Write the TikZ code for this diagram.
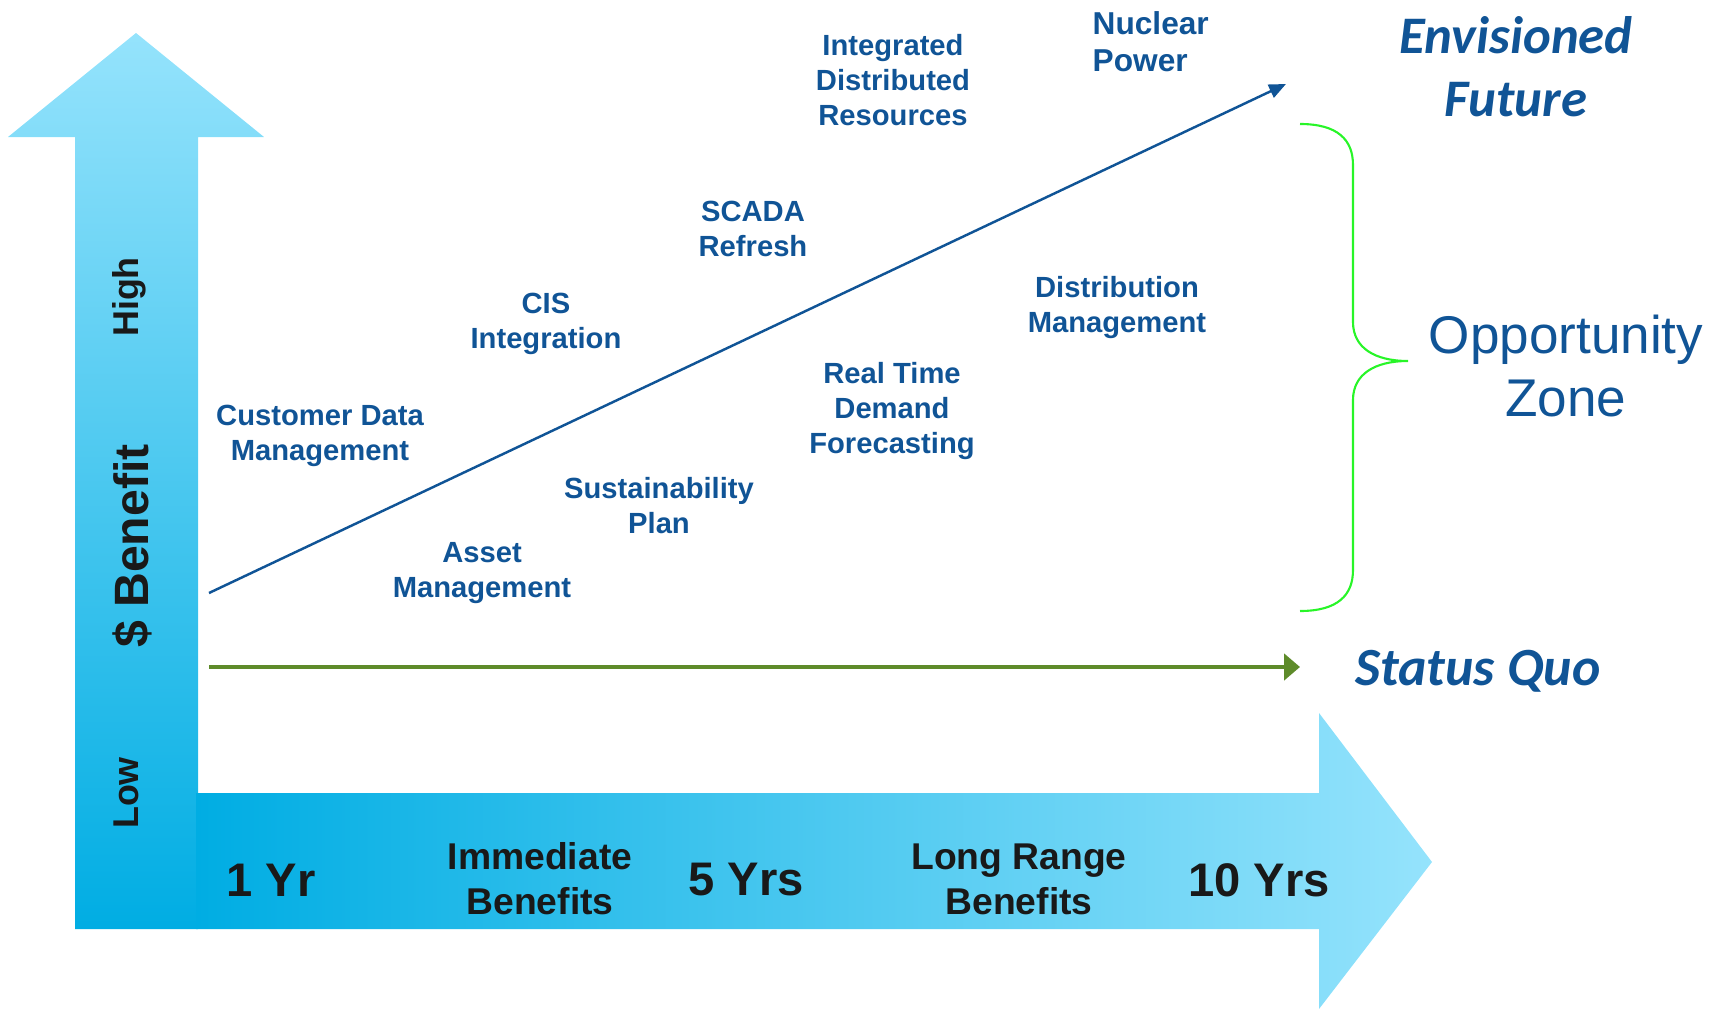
\documentclass[tikz,border=0pt]{standalone}
\usepackage{fontspec}
\setmainfont{Liberation Sans}
\newfontfamily\calibri{Carlito}
\usetikzlibrary{arrows.meta}

\definecolor{bleu}{RGB}{16,84,150}
\definecolor{ciel}{RGB}{149,227,252}
\definecolor{azur}{RGB}{0,173,227}
\definecolor{vertquo}{RGB}{94,139,42}
\definecolor{vif}{RGB}{40,245,40}

\tikzset{
  projet/.style={text=bleu, font=\bfseries\fontsize{8.3}{9.96}\selectfont, align=center, inner sep=0pt},
  annee/.style={text=black!90, font=\bfseries\fontsize{13.4}{16}\selectfont, inner sep=0pt},
  periode/.style={text=black!90, font=\bfseries\fontsize{10.6}{12.8}\selectfont, align=center, inner sep=0pt},
  niveau/.style={text=black!90, font=\bfseries\fontsize{10.2}{12}\selectfont, rotate=90, inner sep=0pt},
  titre/.style={text=bleu, font=\calibri\bfseries\itshape\fontsize{15}{17.9}\selectfont, align=center, inner sep=0pt},
}

\begin{document}
\begin{tikzpicture}[x=0.01cm, y=-0.01cm]
  \useasboundingbox (0,0) rectangle (1723,1009);

  % the two big axes
  \shade[top color=ciel, bottom color=azur]
    (75,929) -- (75,137) -- (8,137) -- (136,33) -- (264,137) -- (198,137) -- (198,929) -- cycle;
  \shade[left color=azur, right color=ciel]
    (196,793) -- (1319,793) -- (1319,713) -- (1432,862) -- (1319,1009) -- (1319,929) -- (196,929) -- cycle;

  \node[niveau] (high) at (129,297) {High};
  \node[niveau, font=\bfseries\fontsize{13.7}{16}\selectfont] (benefit) at (132,546) {\$ Benefit};
  \node[niveau] (low) at (126,793) {Low};

  \foreach \nom/\x/\texte in {un/271/1 Yr, cinq/746/5 Yrs, dix/1259/10 Yrs}
    \node[annee] (\nom) at (\x,880) {\texte};
  \node[periode] (immediat) at (540,879) {Immediate\\Benefits};
  \node[periode] (long) at (1019,879) {Long Range\\Benefits};

  % trajectories
  \coordinate (depart) at (209,593);
  \coordinate (avenir) at (1286,84);
  \coordinate (departquo) at (209,667);
  \coordinate (finquo) at (1300,667);
  \draw[bleu, line width=0.7pt, -{Triangle[length=4.8pt, width=4pt]}] (depart) -- (avenir);
  \draw[vertquo, line width=1.1pt, -{Triangle[length=4.5pt, width=7.4pt]}] (departquo) -- (finquo);

  % brace
  \draw[vif, line width=0.6pt]
    (1300,124) .. controls (1338,124) and (1353,140) .. (1353,165) -- (1353,322)
    .. controls (1353,348) and (1375,361) .. (1408,361)
    .. controls (1375,361) and (1353,374) .. (1353,400) -- (1353,570)
    .. controls (1353,595) and (1338,611) .. (1300,611);

  \node[titre] (envisage) at (1516,67) {Envisioned\\Future};
  \node[titre, font=\calibri\bfseries\itshape\fontsize{15.3}{17.9}\selectfont] (quo) at (1478,671) {Status Quo};
  \node[text=bleu, font=\fontsize{15.1}{17.9}\selectfont, align=center, inner sep=0pt] (zone) at (1566,366) {Opportunity\\Zone};

  % projects
  \foreach \nom/\x/\y/\texte in {
      idr/893/80/{Integrated\\Distributed\\Resources},
      scada/753/229/{SCADA\\Refresh},
      cis/546/324/{CIS\\Integration},
      cdm/320/436/{Customer Data\\Management},
      dms/1117/308/{Distribution\\Management},
      rtdf/892/411/{Real Time\\Demand\\Forecasting},
      durable/659/506/{Sustainability\\Plan},
      actifs/482/573/{Asset\\Management}}
    \node[projet] (\nom) at (\x,\y) {\texte};
  \node[projet, align=left, anchor=west, font=\bfseries\fontsize{9}{10.6}\selectfont] (nucleaire) at (1092,42) {Nuclear\\Power};
\end{tikzpicture}
\end{document}
